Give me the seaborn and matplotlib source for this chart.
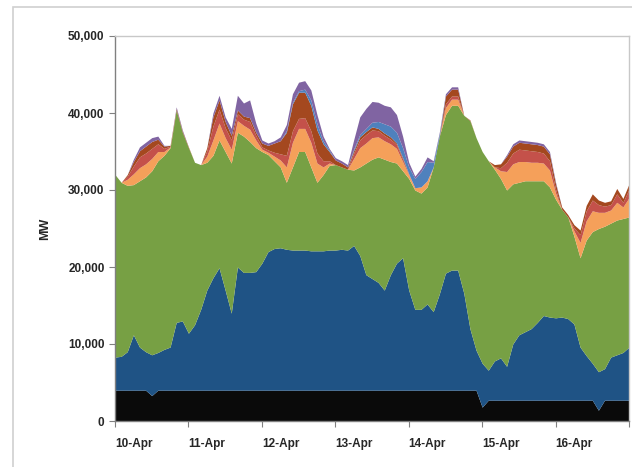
import numpy as np
import pandas as pd
import matplotlib
matplotlib.use("Agg")
import matplotlib.pyplot as plt
import matplotlib.dates as mdates
from matplotlib.patches import Rectangle
from matplotlib.ticker import FuncFormatter, MultipleLocator
import seaborn as sns

# time axis: 2-hourly samples, 10-Apr 00:00 to 17-Apr 00:00
times = pd.date_range("2009-04-10 00:00", periods=85, freq="2h")

# generation by layer (MW), bottom to top
nuclear = [4000] * 6 + [3300] + [4000] * 53 + [1800] + [2700] * 18 + [1400] + [2700] * 5

hydro = [4300, 4400, 5000, 7200, 5600, 5000, 5300, 4900, 5300, 5600,
         8800, 9000, 7400, 8500, 10500, 13000, 14600, 15900, 13000, 10000,
         16000, 15300, 15300, 15400, 16500, 18000, 18400, 18500, 18300, 18200,
         18200, 18200, 18100, 18100, 18100, 18200, 18200, 18300, 18200, 18800,
         17500, 15000, 14500, 14000, 13000, 15000, 16500, 17200, 13000, 10500,
         10500, 11200, 10200, 12500, 15200, 15600, 15600, 12600, 8000, 5200,
         5700, 3900, 5100, 5500, 4400, 7300, 8500, 8900, 9300, 10100,
         11000, 10800, 10700, 10800, 10600, 9900, 6900, 5800, 4800, 5000,
         4100, 5600, 5900, 6200, 6900]

green = [23700, 22600, 21600, 19500, 21600, 22700, 23900, 24900, 25200, 25900,
         27600, 24500, 24100, 21100, 18800, 16600, 15900, 16600, 18000, 19500,
         17500, 17700, 17000, 16100, 14500, 12600, 11400, 10500, 8700, 10800,
         12800, 12800, 10900, 8900, 9900, 11000, 11100, 10700, 10500, 9800,
         11500, 14500, 15500, 16300, 17000, 14700, 13000, 11300, 14500, 15500,
         15100, 15200, 18800, 20500, 20600, 21400, 21400, 23100, 27000, 27600,
         27500, 27200, 24900, 23300, 22900, 20800, 19800, 19600, 19200, 18400,
         17500, 16900, 15400, 14000, 13200, 11400, 11600, 15000, 17100, 18600,
         18500, 17400, 17500, 17400, 16900]

orange = [0, 0, 800, 1400, 1700, 1700, 1600, 1200, 500, 100,
          0, 0, 0, 0, 0, 800, 2000, 2200, 1800, 1800,
          1500, 1400, 1600, 1000, 300, 300, 600, 900, 2000, 3200,
          3000, 3000, 3200, 2500, 1000, 300, 0, 0, 0, 1500,
          2500, 2600, 2800, 2600, 2400, 2300, 1900, 1200, 500, 300,
          800, 800, 0, 0, 900, 800, 800, 0, 0, 0,
          0, 0, 300, 1000, 2400, 2600, 2700, 2500, 2400, 2400,
          2300, 2200, 800, 0, 0, 700, 2000, 2500, 2700, 2100,
          1800, 1700, 2300, 1500, 2500]

red = [0, 0, 400, 1000, 1400, 1400, 1300, 1000, 400, 100,
       0, 0, 0, 0, 0, 700, 1800, 1800, 1300, 1200,
       900, 800, 1000, 600, 300, 300, 500, 800, 1500, 1500,
       1300, 1400, 1500, 1300, 800, 300, 0, 0, 0, 700,
       1000, 1100, 1000, 800, 700, 600, 500, 300, 100, 0,
       0, 0, 0, 0, 500, 400, 400, 0, 0, 0,
       0, 0, 0, 400, 1200, 1400, 1600, 1500, 1500, 1400,
       1300, 1200, 500, 0, 0, 400, 1000, 1300, 1400, 1000,
       800, 700, 1100, 600, 1100]

brown = [0, 0, 200, 600, 800, 900, 900, 600, 300, 100,
         200, 150, 100, 0, 0, 400, 1200, 1200, 800, 600,
         500, 400, 500, 400, 500, 600, 1200, 1700, 3000, 3500,
         3400, 3300, 3300, 3000, 2200, 1200, 600, 500, 300, 300,
         400, 400, 400, 300, 300, 300, 200, 200, 0, 0,
         0, 0, 0, 0, 1000, 900, 900, 0, 100, 0,
         0, 0, 300, 500, 800, 900, 900, 900, 900, 900,
         900, 900, 700, 300, 300, 400, 600, 700, 800, 600,
         500, 500, 700, 500, 700]

light_blue = [0] * 28 + \
             [200, 200, 200, 400, 700, 800, 400, 200, 0, 0, 0, 200,
              300, 400, 600, 900, 1200, 1400, 1400, 1300, 900, 1200,
              2000, 2500, 600, 300] + [0] * 31

purple = [0, 0, 0, 300, 500, 500, 500, 400, 100, 0,
          200, 150, 0, 0, 0, 0, 500, 600, 600, 900,
          1900, 1700, 2300, 1200, 400, 300, 300, 500, 800, 1100,
          1100, 1100, 1300, 1200, 600, 200, 300, 300, 300, 1200,
          2300, 2600, 2700, 2500, 2400, 2500, 2300, 1500, 600, 300,
          400, 600, 200, 200, 300, 300, 300, 0, 0, 0,
          0, 0, 0, 0, 200, 300, 300, 300, 300, 300,
          300, 300, 200, 0, 0, 0, 0, 0, 0, 0,
          0, 0, 0, 0, 0]

layer_colors = ["#0a0a0a", "#1f5385", "#77a044", "#f5a05a", "#c4514a",
                "#a4481f", "#4f81bd", "#8064a2"]

sns.set_style("white")
plt.rcParams["font.family"] = ["Liberation Sans", "DejaVu Sans"]

fig = plt.figure(figsize=(6.32, 4.67), dpi=100)
ax = fig.add_axes([115 / 632, 46 / 467, 514 / 632, 385 / 467])

ax.stackplot(times, nuclear, hydro, green, orange, red, brown, light_blue, purple,
             colors=layer_colors, linewidth=0)

ax.set_xlim(times[0], times[-1])
ax.set_ylim(0, 50000)
ax.yaxis.set_major_locator(MultipleLocator(10000))
ax.yaxis.set_major_formatter(FuncFormatter(lambda v, p: f"{int(v):,}"))
ax.xaxis.set_major_locator(mdates.DayLocator())
ax.xaxis.set_major_formatter(mdates.DateFormatter("%d-%b"))

ax.tick_params(axis="both", labelsize=8.5, width=0.8, length=4, color="#808080",
               direction="out", left=True, bottom=True)
ax.tick_params(axis="x", pad=8)
for lab in ax.get_xticklabels():
    lab.set_fontweight("bold")
    lab.set_horizontalalignment("left")
for lab in ax.get_yticklabels():
    lab.set_fontweight("bold")
ax.xaxis.get_ticklabels()[-1].set_visible(False)

ax.set_ylabel("MW", fontsize=9, fontweight="bold", labelpad=12)

for side in ["left", "bottom"]:
    ax.spines[side].set_color("#808080")
    ax.spines[side].set_linewidth(1)
for side in ["top", "right"]:
    ax.spines[side].set_color("#c8c8c8")
    ax.spines[side].set_linewidth(1)

# outer chart border
fig.add_artist(Rectangle((13 / 632, -0.1), 1.2, (460 / 467) + 0.1,
                         transform=fig.transFigure, fill=False,
                         edgecolor="#d0d0d0", linewidth=1.2))

fig.savefig("out.png", dpi=100)
